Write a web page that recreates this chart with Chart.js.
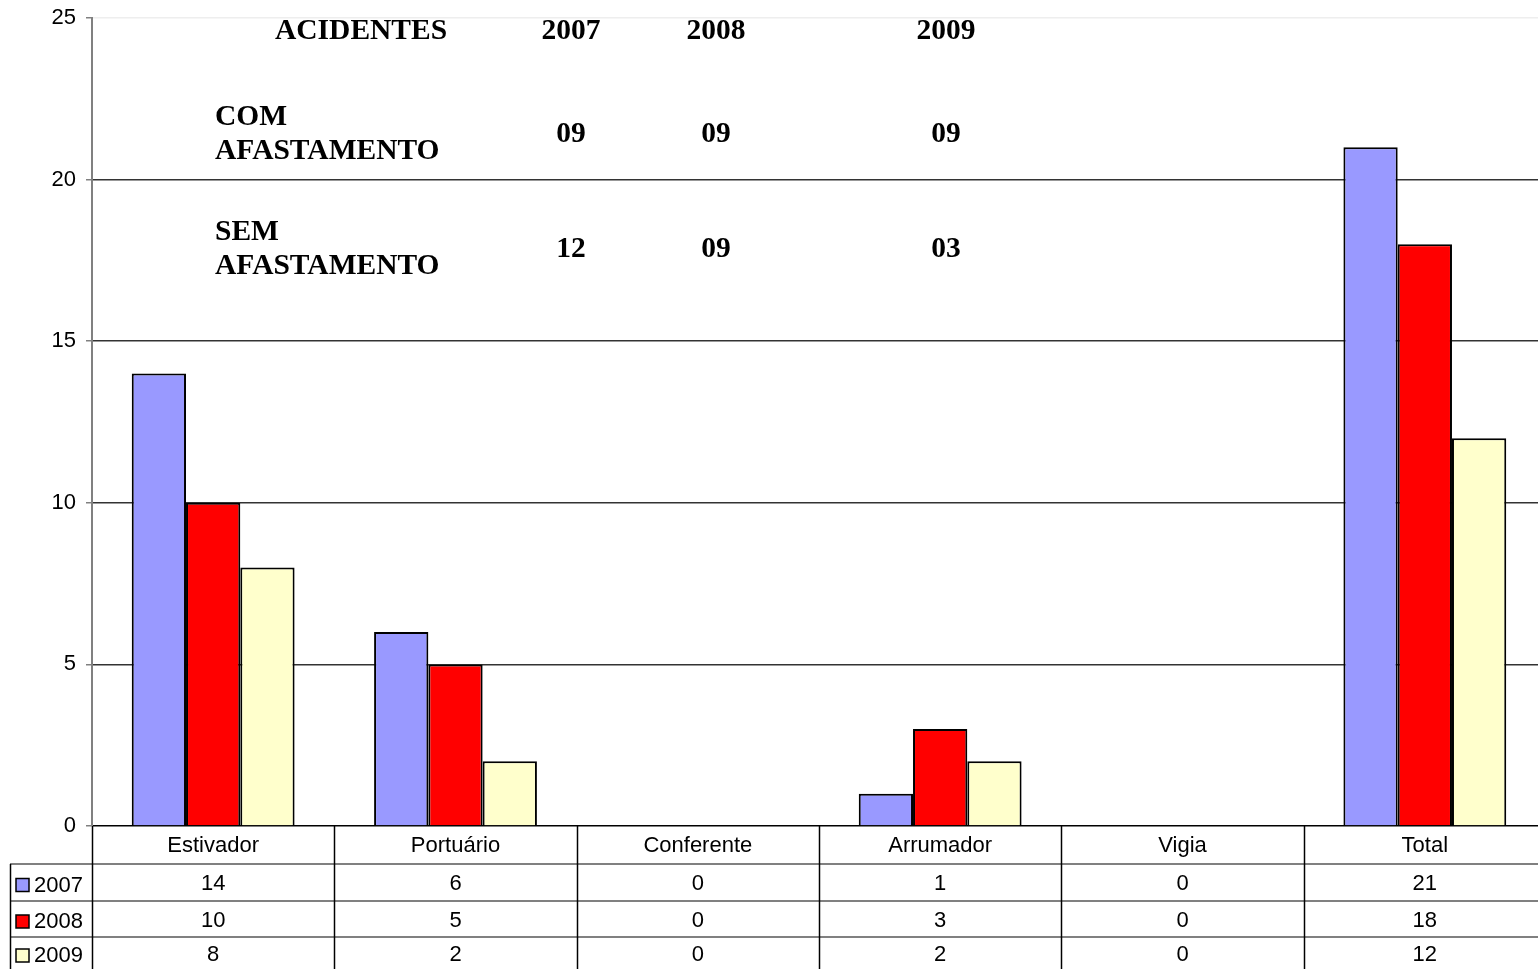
<!DOCTYPE html>
<html><head><meta charset="utf-8">
<script src="https://cdn.jsdelivr.net/npm/chart.js@4"></script>
<style>html,body{margin:0;padding:0;background:#fff;overflow:hidden}#wrap{width:1538px;height:969px;position:relative;overflow:hidden}</style>
</head><body><div id="wrap"><canvas id="c" width="1546" height="969"></canvas></div>
<script>
const categories = ['Estivador','Portuário','Conferente','Arrumador','Vigia','Total'];
const seriesNames = ['2007','2008','2009'];
const values2007 = [14,6,0,1,0,21];
const values2008 = [10,5,0,3,0,18];
const values2009 = [8,2,0,2,0,12];
const yTicks = [0,5,10,15,20,25];
const noteHeader = ['ACIDENTES','2007','2008','2009'];
const noteCom = ['09','09','09'];
const noteSem = ['12','09','03'];

const colors = ['#9999FF','#FF0000','#FFFFCC'];
const allValues = [values2007, values2008, values2009];

const tablePlugin = {
  id:'tablePlugin',
  afterDraw(chart){
    const ctx = chart.ctx, x = chart.scales.x, a = chart.chartArea;
    const n = categories.length;
    const colW = (a.right - a.left)/n;
    const rows = [a.bottom, 864, 901, 937, 969];
    ctx.save();
    ctx.strokeStyle = '#808080'; ctx.lineWidth = 2;
    for (let i=1;i<4;i++){ ctx.beginPath(); ctx.moveTo(10, rows[i]); ctx.lineTo(a.right, rows[i]); ctx.stroke(); }
    ctx.strokeStyle = '#000'; ctx.lineWidth = 1.5;
    ctx.beginPath(); ctx.moveTo(10.5, 864); ctx.lineTo(10.5, 969); ctx.stroke();
    for (let i=0;i<n;i++){
      const xl = Math.round(a.left + i*colW) + 0.5;
      ctx.beginPath(); ctx.moveTo(xl, a.bottom); ctx.lineTo(xl, 969); ctx.stroke();
    }
    ctx.fillStyle = '#000';
    ctx.font = '22px "Liberation Sans", Arial, sans-serif';
    ctx.textAlign = 'center'; ctx.textBaseline = 'middle';
    for (let i=0;i<n;i++){
      const cx = x.getPixelForValue(i);
      ctx.fillText(categories[i], cx, (rows[0]+rows[1])/2 + 1);
      for (let s=0;s<3;s++) ctx.fillText(String(allValues[s][i]), cx, (rows[s+1]+rows[s+2])/2 + 1.5);
    }
    ctx.textAlign = 'left';
    for (let s=0;s<3;s++){
      const cy = (rows[s+1]+rows[s+2])/2 + 2;
      ctx.fillStyle = colors[s]; ctx.fillRect(16, cy-6, 13, 13);
      ctx.strokeStyle = '#000'; ctx.lineWidth = 1.5; ctx.strokeRect(16, cy-6, 13, 13);
      ctx.fillStyle = '#000'; ctx.fillText(seriesNames[s], 34, cy+1);
    }
    ctx.font = 'bold 29.5px "Liberation Serif", "Times New Roman", serif';
    ctx.textAlign = 'left';
    ctx.fillText(noteHeader[0], 275, 31);
    ctx.fillText('COM', 215, 117);
    ctx.fillText('AFASTAMENTO', 215, 151);
    ctx.fillText('SEM', 215, 232);
    ctx.fillText('AFASTAMENTO', 215, 266);
    ctx.textAlign = 'center';
    const xs = [571, 716, 946];
    for (let i=0;i<3;i++){
      ctx.fillText(noteHeader[i+1], xs[i], 31);
      ctx.fillText(noteCom[i], xs[i], 134);
      ctx.fillText(noteSem[i], xs[i], 249);
    }
    ctx.restore();
  }
};

new Chart(document.getElementById('c'), {
  type:'bar',
  data:{
    labels: categories,
    datasets: seriesNames.map((nm,i)=>({
      label:nm, data: allValues[i], backgroundColor: colors[i],
      borderColor:'#000', borderWidth:2,
      categoryPercentage:0.672, barPercentage:1
    }))
  },
  options:{
    responsive:false, animation:false, devicePixelRatio:1,
    layout:{padding:{top:18,left:0,right:0,bottom:0}},
    plugins:{legend:{display:false}, tooltip:{enabled:false}},
    scales:{
      x:{
        ticks:{display:false}, grid:{display:false}, border:{display:false},
        afterFit(s){ s.height = 143; s.paddingLeft = 0; s.paddingRight = 0; }
      },
      y:{
        min:0, max:25,
        afterFit(s){ s.width = 92; s.paddingTop = 0; s.paddingBottom = 0; },
        afterBuildTicks(s){ s.ticks = yTicks.map(v=>({value:v})); },
        ticks:{color:'#000', font:{size:22, family:'"Liberation Sans", Arial, sans-serif'}, padding:10},
        grid:{
          color:(c)=> c.tick && c.tick.value===25 ? '#eeeeee' : (c.tick && c.tick.value===0 ? '#000' : '#333'),
          tickColor:'#808080', tickLength:6, lineWidth:1.5
        },
        border:{color:'#808080', width:2}
      }
    }
  },
  plugins:[tablePlugin]
});
</script></body></html>
